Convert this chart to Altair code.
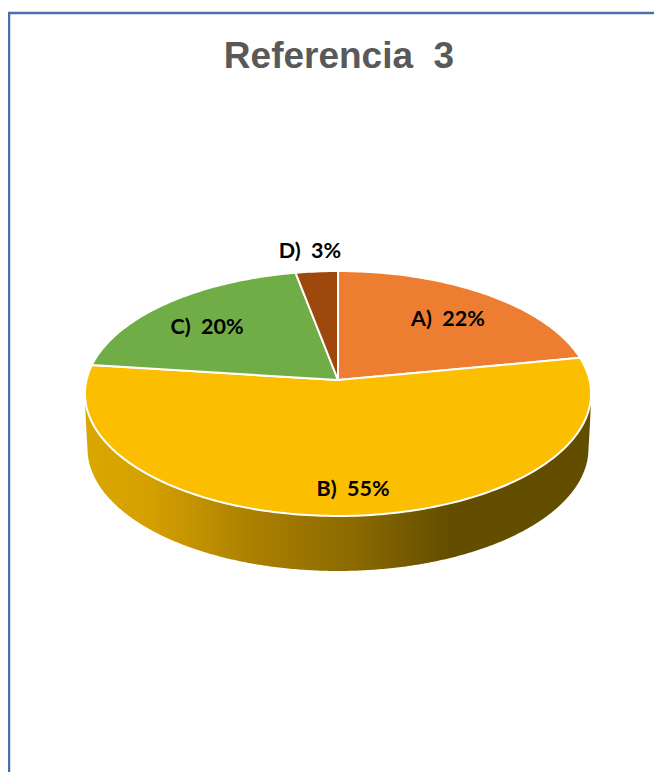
import math
import altair as alt
import pandas as pd

categories = ["A", "B", "C", "D"]
shares = [22, 55, 20, 3]
colors = ["#ED7D31", "#FBBE00", "#70AD47", "#9E480E"]
labels = ["A)\u00a0\u00a022%", "B)\u00a0\u00a055%", "C)\u00a0\u00a020%", "D)\u00a0\u00a03%"]
label_x = [110, 15, -131, -28]
label_y = [60, -110, 52, 128]

TILT_A, TILT_B, PERSP = 251.5, 121.0, 0.1101
DEPTH = 55
BOTTOM_WIDTH = 250.5


def project(theta_deg):
    t = math.radians(theta_deg)
    u, v = math.sin(t), math.cos(t)
    w = 1 + PERSP * v
    return TILT_A * u / w, TILT_B * v / w


# wedge outlines: the shares laid round a tilted disc
rows = []
start = 0.0
for cat, share in zip(categories, shares):
    sweep = share * 3.6
    n = max(4, int(sweep))
    rows.append({"cat": cat, "i": 0, "x": 0.0, "y": 0.0})
    for k in range(n + 1):
        px, py = project(start + sweep * k / n)
        rows.append({"cat": cat, "i": k + 1, "x": px, "y": py})
    rows.append({"cat": cat, "i": n + 2, "x": 0.0, "y": 0.0})
    start += sweep
wedges = pd.DataFrame(rows)

# side wall: lower rim of the disc and a slightly narrower rim below it
edge = math.degrees(math.acos(-PERSP))
x_max, rim_mid = project(edge)
_, rim_low = project(180)
wall_rows = []
for k in range(361):
    th = (360 - edge) - (360 - 2 * edge) * k / 360
    px, py = project(th)
    if abs(px) >= BOTTOM_WIDTH:
        frac = (x_max - abs(px)) / (x_max - BOTTOM_WIDTH)
        low = py + (rim_mid - DEPTH - py) * frac
    else:
        low = rim_mid - DEPTH + (rim_low - rim_mid) * math.sqrt(1 - (px / BOTTOM_WIDTH) ** 2)
    wall_rows.append({"x": px, "y": py, "y2": low})
wall = pd.DataFrame(wall_rows)

text_df = pd.DataFrame({"label": labels, "x": label_x, "y": label_y})
title_df = pd.DataFrame({"label": ["Referencia\u00a0\u00a03"], "x": [1], "y": [323]})

xs = alt.Scale(domain=[-330, 316], nice=False, zero=False)
ys = alt.Scale(domain=[-392, 372], nice=False, zero=False)
X = alt.X("x:Q", scale=xs, axis=None)
Y = alt.Y("y:Q", scale=ys, axis=None)

wall_layer = alt.Chart(wall).mark_area(
    color=alt.Gradient(
        gradient="linear", x1=0, x2=1, y1=0, y2=0,
        stops=[
            alt.GradientStop(offset=0, color="#DAA700"),
            alt.GradientStop(offset=0.13, color="#D4A000"),
            alt.GradientStop(offset=0.33, color="#AB8000"),
            alt.GradientStop(offset=0.53, color="#8B6A00"),
            alt.GradientStop(offset=0.72, color="#634E00"),
            alt.GradientStop(offset=1, color="#634E00"),
        ],
    )
).encode(x=X, y=Y, y2="y2:Q")

wedge_layer = alt.Chart(wedges).mark_line(
    stroke="white", strokeWidth=2, strokeJoin="round"
).encode(
    x=X, y=Y, order="i:Q",
    fill=alt.Fill("cat:N", scale=alt.Scale(domain=categories, range=colors), legend=None),
)

text_layer = alt.Chart(text_df).mark_text(
    font="Lato", fontWeight="bold", fontSize=21.5, color="black", baseline="middle", align="center"
).encode(x=X, y=Y, text="label:N")

title_layer = alt.Chart(title_df).mark_text(
    font="Liberation Sans", fontWeight="bold", fontSize=37, color="#595959", baseline="middle", align="center"
).encode(x=X, y=Y, text="label:N")

frame_top = alt.Chart(pd.DataFrame({"k": [0]})).mark_rule(color="#4A6FAE", strokeWidth=2.5).encode(
    x=alt.value(0), x2=alt.value(646), y=alt.value(5)
)
frame_left = alt.Chart(pd.DataFrame({"k": [0]})).mark_rule(color="#4A6FAE", strokeWidth=2.5).encode(
    x=alt.value(1), y=alt.value(4), y2=alt.value(764)
)

chart = alt.layer(
    wall_layer, wedge_layer, text_layer, title_layer, frame_top, frame_left
).properties(
    width=646, height=764, padding=0,
    autosize=alt.AutoSizeParams(type="none"),
).configure_view(stroke=None, clip=False)

chart.save("out.html", embed_options={"renderer": "svg", "actions": False})
